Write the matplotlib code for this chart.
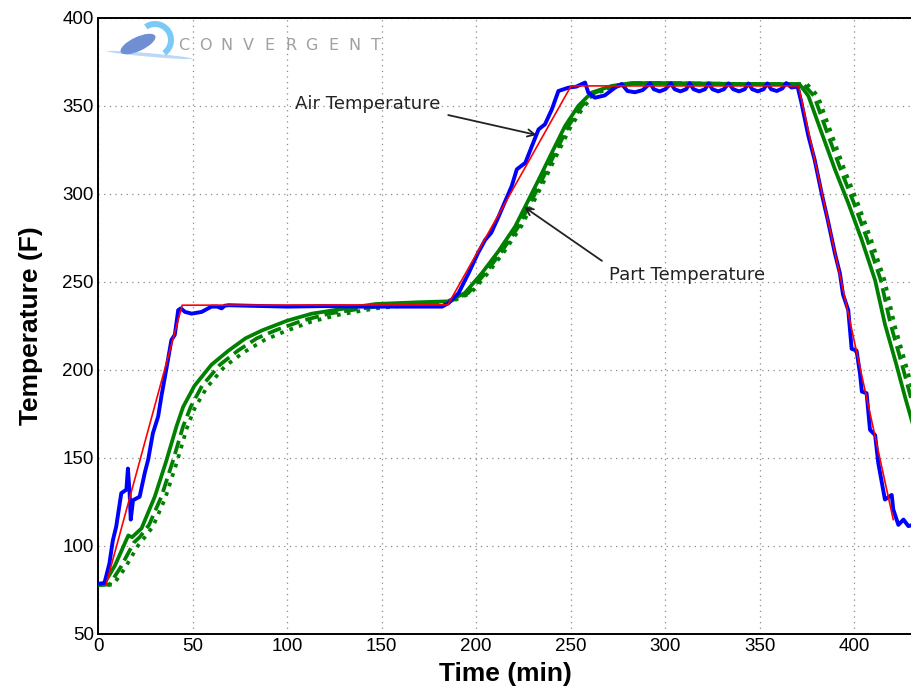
import matplotlib
matplotlib.use("Agg")
import matplotlib.pyplot as plt
from matplotlib.patches import Ellipse, Wedge

# setpoint (red)
set_t = [4.3, 44.5, 185, 250.2, 370.5, 420.6]
set_T = [78.3, 236.8, 237, 361.4, 361.4, 115]

# measured air temperature (blue)
air_t = [0, 3.4, 6, 7.8, 9.6, 12.3, 15, 15.8, 16.7, 17.3, 18.5, 22, 24.7, 26.5, 29,
         31.8, 33.5, 36.2, 38.8, 40.6, 42.4, 43.8, 46, 49.5, 54.8, 60, 63, 65.4, 67,
         69, 80, 100, 120, 140, 160, 175, 182, 185.4, 190.7, 196, 201, 204.8, 208,
         211.8, 215, 218.8, 221.5, 226, 229.4, 233, 236.4, 240, 243.5, 248.8, 253,
         257.6, 259.3, 262.9, 268, 273.4, 277, 280, 284, 288, 292, 294, 297, 300, 303,
         305, 308, 311, 313, 315, 318, 321, 323, 325, 328, 331, 333.5, 336, 339, 342,
         344, 346, 349, 352, 354, 356, 359, 362, 364, 366.8, 370, 372, 375.7, 379,
         382.7, 386, 389.8, 392.4, 394, 396.8, 398.6, 401.2, 403, 404, 406.5, 408.3,
         411, 412.7, 416.2, 419.8, 420.6, 423.3, 426, 428.6, 431]
air_T = [78.5, 79, 90, 103, 111, 130, 132, 144, 130, 115, 126, 128, 141.5, 149, 164,
         173.6, 185, 201, 217, 220, 234, 235, 233, 232, 233, 236, 236, 235, 236.5,
         236.8, 236.5, 236, 236.3, 236, 236, 236, 236, 238, 243.7, 255, 266.5, 274, 278,
         287, 295, 304.5, 314, 317.7, 327, 336.7, 339.6, 348, 358.5, 360.4, 361,
         363.3, 357.6, 354.7, 356, 360.4, 362.5, 358.5, 357.8, 359, 362.8, 359.5, 358.3, 359.5, 362.8,
         359.5, 358.3, 359.5, 362.8, 359.5, 358.3, 359.5, 362.8, 359.5, 358.3, 359.5, 362.8, 359.5, 358.3, 359.5,
         362.8, 359.5, 358.3, 359.5, 362.8, 359.5, 358.5, 360, 363, 360.5, 361, 352, 333, 319.5,
         300.5, 285, 266, 254.8, 243, 234, 212, 211, 198, 187.7, 186.8, 166,
         163, 147, 126.4, 129, 120.8, 112, 115, 111.3, 112]

# part temperatures (green): solid, dashed, dotted
part_t = [0, 3, 9, 16, 18, 23, 30, 36, 41.5, 45, 51, 60, 69, 78, 87, 100, 113, 131, 147,
          170, 185, 194, 203, 211.8, 220.6, 226, 233, 240, 247, 254, 261, 271.7, 282,
          300, 340, 371, 375.7, 382.7, 389.8, 396.8, 403.9, 411, 416.2, 422, 427, 431]
part_T = [78, 78, 89, 106, 105, 110, 128, 148, 168, 179, 191, 203, 211, 218, 222.6, 228,
          232, 235, 237.5, 238.5, 239, 243.7, 255, 267.5, 281.5, 293, 308, 323.4, 338.6,
          350, 357.6, 361.4, 363, 363, 362.5, 362.4, 355.7, 334.8, 313.8, 294.8, 274,
          251, 226, 204, 184, 169]

dash_t = [0, 6, 12, 19, 22, 27, 33.5, 39.5, 45, 49, 55, 64.5, 74, 84, 94, 108, 122, 140,
          158, 185, 195.8, 204.8, 213.6, 222.4, 227.8, 234.8, 241.8, 248.8, 255.8, 262.8,
          273.5, 284, 300, 340, 373, 378.7, 385.7, 392.8, 399.8, 406.9, 414, 419.2, 425,
          430, 431]
dash_T = [78, 78, 88, 102, 105, 112, 128, 148, 168, 179, 191, 203, 211, 218, 222.6, 228,
          232, 235, 237.5, 238.5, 243.7, 255, 267.5, 281.5, 293, 308, 323.4, 338.6, 350,
          357.6, 361.4, 363, 363, 362.5, 362.4, 355.7, 334.8, 313.8, 294.8, 274, 251, 226,
          204, 184, 180]

dot_t = [0, 8, 14, 21, 24, 29, 35.5, 41.5, 47, 51, 57.5, 67, 77, 88, 99, 113, 128, 147,
         166, 185, 197.2, 206.2, 215, 223.8, 229.2, 236.2, 243.2, 250.2, 257.2, 264.2,
         275, 285.5, 300, 340, 375, 380.7, 387.7, 394.8, 401.8, 408.9, 416, 421.2, 427, 431]
dot_T = [78, 78, 87, 100, 104, 111, 127, 147, 167, 178, 190, 202, 210, 217, 222, 227.5,
         231.5, 235, 237, 238, 243.7, 255, 267.5, 281.5, 293, 308, 323.4, 338.6, 350,
         357.6, 361.4, 363, 363, 362.5, 362.4, 355.7, 334.8, 313.8, 294.8, 274, 251, 226,
         204, 188]

sans = ["Liberation Sans", "DejaVu Sans"]

fig = plt.figure(figsize=(9.12, 6.91), dpi=100)
ax = fig.add_axes([0.1075, 0.0825, 0.8935, 0.8915])

ax.plot(set_t, set_T, color="r", lw=1.2, zorder=5)
ax.plot(air_t, air_T, color="b", lw=2.8, zorder=4)
ax.plot(dot_t, dot_T, color="g", lw=2.7, ls=":", zorder=3)
ax.plot(dash_t, dash_T, color="g", lw=2.7, ls="--", zorder=3)
ax.plot(part_t, part_T, color="g", lw=2.7, zorder=3)

ax.set_xlim(0, 431)
ax.set_ylim(50, 400)
ax.set_xticks(range(0, 401, 50))
ax.set_yticks(range(50, 401, 50))
ax.grid(True, color="#8a8a8a", lw=0.9, dashes=(1, 3.5))
ax.tick_params(direction="in", length=0, labelsize=13.5, colors="black", pad=3)
for lab in ax.get_xticklabels() + ax.get_yticklabels():
    lab.set_family(sans)
ax.spines["right"].set_visible(False)
for s in ("left", "bottom", "top"):
    ax.spines[s].set_linewidth(1.4)

ax.set_xlabel("Time (min)", fontsize=19, fontweight="bold", family=sans, labelpad=5)
ax.set_ylabel("Temperature (F)", fontsize=19, fontweight="bold", family=sans, labelpad=14)

ax.annotate("Air Temperature", xy=(232, 333.5), xytext=(104, 351),
            ha="left", va="center", fontsize=13, family="DejaVu Sans", color="#222222",
            arrowprops=dict(arrowstyle="->", color="#222222", lw=1.3,
                            relpos=(1.0, 0.0), shrinkA=4, shrinkB=0))
ax.annotate("Part Temperature", xy=(225.4, 292.6), xytext=(270.4, 254),
            ha="left", va="center", fontsize=13, family="DejaVu Sans", color="#222222",
            arrowprops=dict(arrowstyle="->", color="#222222", lw=1.3,
                            relpos=(0.0, 1.0), shrinkA=4, shrinkB=0))

# logo
lax = fig.add_axes([105 / 912, 1 - 65 / 691, 95 / 912, 45 / 691])
lax.set_xlim(0, 95)
lax.set_ylim(0, 45)
lax.axis("off")
lax.add_patch(Ellipse((45, 10), 86, 3.5, angle=-5, color="#bcd8f6", lw=0))
lax.add_patch(Wedge((50, 25), 19, -55, 125, width=6, color="#7bcaf5", lw=0))
lax.add_patch(Ellipse((33, 21), 38, 14, angle=25, color="#6f8fd2", lw=0))
for i, ch in enumerate("CONVERGENT"):
    fig.text((184 + i * 21.3) / 912, 1 - 45 / 691, ch, fontsize=11.5, color="#a0a0a0",
             ha="center", va="center", family="DejaVu Sans")

fig.savefig("out.png", dpi=100)
